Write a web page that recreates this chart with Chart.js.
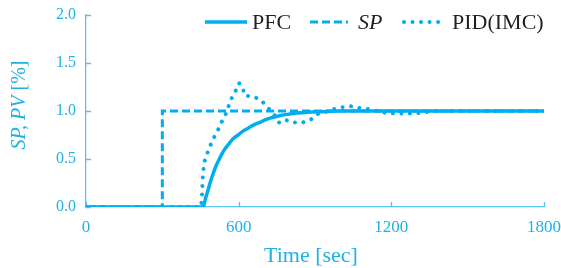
<!DOCTYPE html>
<html>
<head>
<meta charset="utf-8">
<script src="https://cdn.jsdelivr.net/npm/chart.js@4/dist/chart.umd.min.js"></script>
<style>
html,body{margin:0;padding:0;background:#fff;}
#wrap{width:561px;height:268px;position:relative;}
</style>
</head>
<body>
<div id="wrap"><canvas id="c" width="561" height="268"></canvas></div>
<script>
// ---- data ----
const seriesNames = ['PFC', 'SP', 'PID(IMC)'];

const spTime   = [0, 300, 300, 1800];
const spValues = [0, 0, 1.0, 1.0];

const pfcTime   = [0, 460, 470, 480, 490, 500, 513, 526, 542, 559, 578, 598, 617, 637, 663, 690, 712, 735, 760, 790, 830, 870, 920, 1000, 1100, 1800];
const pfcValues = [0, 0, 0.09, 0.18, 0.27, 0.35, 0.44, 0.51, 0.59, 0.65, 0.71, 0.75, 0.79, 0.82, 0.86, 0.89, 0.915, 0.935, 0.95, 0.965, 0.978, 0.987, 0.993, 1.0, 1.0, 1.0];

const pidTime   = [0, 452, 455, 457, 458, 461, 464, 474, 487, 500, 515, 530, 548, 559, 572, 588, 602, 615, 624, 657, 667, 696, 716, 738, 759, 781, 814, 851, 883, 912, 942, 975, 1008, 1043, 1076, 1111, 1145, 1178, 1213, 1245, 1283, 1318, 1360, 1800];
const pidValues = [0, 0, 0.09, 0.18, 0.28, 0.37, 0.46, 0.54, 0.63, 0.71, 0.78, 0.87, 0.96, 1.04, 1.13, 1.21, 1.29, 1.25, 1.16, 1.15, 1.14, 1.09, 1.03, 0.97, 0.88, 0.91, 0.88, 0.88, 0.91, 0.97, 0.99, 1.02, 1.04, 1.05, 1.03, 1.02, 1.0, 0.98, 0.975, 0.975, 0.975, 0.98, 1.0, 1.0];

const xTicks = [0, 600, 1200, 1800];
const yTicks = [0, 0.5, 1.0, 1.5, 2.0];
const xTitle = 'Time [sec]';
const yTitleItalic = 'SP, PV';
const yTitleRest = ' [%]';

// ---- styling ----
const LINE = '#00aeef';
const TEXT = '#1fb1e6';
const AXIS = '#55c3ec';
const SERIF = '"Liberation Serif", "DejaVu Serif", serif';

const toPts = (t, v) => t.map((x, i) => ({x: x, y: v[i]}));

const extras = {
  id: 'extras',
  beforeDatasetsDraw(chart) {
    const ctx = chart.ctx;
    const xs = chart.scales.x, ys = chart.scales.y;
    ctx.save();
    ctx.strokeStyle = AXIS;
    ctx.lineWidth = 1.3;
    ctx.beginPath();
    yTicks.forEach(v => {
      const y = Math.round(ys.getPixelForValue(v)) + 0.5;
      ctx.moveTo(xs.left, y); ctx.lineTo(xs.left + 5, y);
    });
    xTicks.forEach(v => {
      const x = Math.round(xs.getPixelForValue(v)) + 0.5;
      ctx.moveTo(x, ys.bottom); ctx.lineTo(x, ys.bottom - 5);
    });
    ctx.stroke();
    ctx.restore();
  },
  afterDraw(chart) {
    const ctx = chart.ctx;
    ctx.save();
    // x title
    ctx.fillStyle = TEXT;
    ctx.font = '22px ' + SERIF;
    ctx.textAlign = 'center';
    ctx.textBaseline = 'alphabetic';
    ctx.fillText(xTitle, 311, 262);
    // y title (rotated, mixed italic)
    ctx.translate(25, 105);
    ctx.rotate(-Math.PI / 2);
    ctx.font = 'italic 20px ' + SERIF;
    const w1 = ctx.measureText(yTitleItalic).width;
    ctx.font = '20px ' + SERIF;
    const w2 = ctx.measureText(yTitleRest).width;
    let sx = -(w1 + w2) / 2;
    ctx.textAlign = 'left';
    ctx.font = 'italic 20px ' + SERIF;
    ctx.fillText(yTitleItalic, sx, 0);
    ctx.font = '20px ' + SERIF;
    ctx.fillText(yTitleRest, sx + w1, 0);
    ctx.restore();

    // legend
    ctx.save();
    const items = [
      {ds: 0, x0: 205, x1: 247, tx: 252, italic: false},
      {ds: 1, x0: 310, x1: 348, tx: 358, italic: true},
      {ds: 2, x0: 404, x1: 442, tx: 452, italic: false}
    ];
    const ly = 22;
    items.forEach(it => {
      const d = chart.data.datasets[it.ds];
      ctx.strokeStyle = d.borderColor;
      ctx.lineWidth = d.borderWidth;
      ctx.lineCap = d.borderCapStyle || 'butt';
      ctx.setLineDash(d.borderDash || []);
      ctx.beginPath();
      ctx.moveTo(it.x0, ly); ctx.lineTo(it.x1, ly);
      ctx.stroke();
      ctx.setLineDash([]);
      ctx.fillStyle = '#231f20';
      ctx.font = (it.italic ? 'italic ' : '') + '22px ' + SERIF;
      ctx.textAlign = 'left';
      ctx.textBaseline = 'alphabetic';
      ctx.fillText(d.label, it.tx, 28.5);
    });
    ctx.restore();
  }
};

new Chart(document.getElementById('c'), {
  type: 'line',
  data: {
    datasets: [
      {label: seriesNames[0], data: toPts(pfcTime, pfcValues), borderColor: LINE, borderWidth: 3.5, pointRadius: 0, cubicInterpolationMode: 'monotone', borderCapStyle: 'butt'},
      {label: seriesNames[1], data: toPts(spTime, spValues), borderColor: LINE, borderWidth: 3, pointRadius: 0, borderDash: [8, 4], tension: 0},
      {label: seriesNames[2], data: toPts(pidTime, pidValues), borderColor: LINE, borderWidth: 4, pointRadius: 0, borderDash: [0.01, 8.5], borderCapStyle: 'round', tension: 0}
    ]
  },
  options: {
    responsive: false,
    animation: false,
    events: [],
    layout: {padding: 0},
    plugins: {legend: {display: false}, tooltip: {enabled: false}},
    scales: {
      x: {
        type: 'linear', min: 0, max: 1800,
        afterBuildTicks: s => { s.ticks = xTicks.map(v => ({value: v})); },
        afterFit: s => { s.height = 61; s.paddingLeft = 0; s.paddingRight = 17; },
        grid: {display: true, drawOnChartArea: false, drawTicks: false},
        border: {color: AXIS, width: 1.3},
        ticks: {color: TEXT, font: {family: SERIF, size: 17}, padding: 10, maxRotation: 0, autoSkip: false, callback: v => String(v)}
      },
      y: {
        type: 'linear', min: 0, max: 2,
        afterBuildTicks: s => { s.ticks = yTicks.map(v => ({value: v})); },
        afterFit: s => { s.width = 86; s.paddingTop = 15; s.paddingBottom = 0; },
        grid: {display: true, drawOnChartArea: false, drawTicks: false},
        border: {color: AXIS, width: 1.3},
        ticks: {color: TEXT, font: {family: SERIF, size: 16}, padding: 10, callback: v => Number(v).toFixed(1)}
      }
    }
  },
  plugins: [extras]
});
</script>
</body>
</html>
